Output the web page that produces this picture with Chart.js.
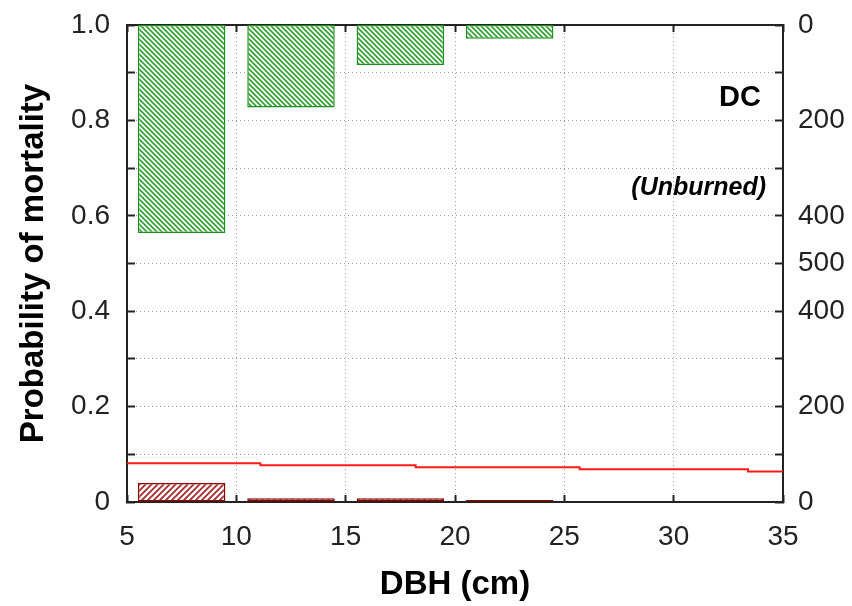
<!DOCTYPE html>
<html lang="en">
<head>
  <meta charset="UTF-8" />
  <title>Probability of mortality by DBH</title>
  <style>
    body { margin: 0; background: #ffffff; }
    #wrap { width: 852px; height: 606px; position: relative; }
  </style>
  <script src="https://cdn.jsdelivr.net/npm/chart.js"></script>
</head>
<body>
  <div id="wrap"><canvas id="chart"></canvas></div>
  <script>
    // DBH classes (cm), bar centres
    const binCenters = [7.5, 12.5, 17.5, 22.5];
    // tree counts per class: survivors hang from the top axis, dead trees stand on the bottom
    const liveCounts = [436, 173, 84, 29];
    const deadCounts = [40, 8, 8, 4];
    // one tree = 1/1000 on the probability axis
    const countsPerUnit = 1000;
    // fitted mortality curve (step line)
    const curveDbh = [5, 11.1, 18.2, 25.7, 33.4, 35];
    const curveProb = [0.081, 0.077, 0.073, 0.0685, 0.064, 0.064];

    const FONT = "'Liberation Sans', Arial, sans-serif";

    function hatch(color, size, width, forward) {
      const c = document.createElement('canvas');
      c.width = size; c.height = size;
      const g = c.getContext('2d');
      g.fillStyle = '#ffffff';
      g.fillRect(0, 0, size, size);
      g.strokeStyle = color;
      g.lineWidth = width;
      g.beginPath();
      if (forward) {
        g.moveTo(-1, size + 1); g.lineTo(size + 1, -1);
        g.moveTo(-2, 2); g.lineTo(2, -2);
        g.moveTo(size - 2, size + 2); g.lineTo(size + 2, size - 2);
      } else {
        g.moveTo(-1, -1); g.lineTo(size + 1, size + 1);
        g.moveTo(size - 2, -2); g.lineTo(size + 2, 2);
        g.moveTo(-2, size - 2); g.lineTo(2, size + 2);
      }
      g.stroke();
      return g.createPattern(c, 'repeat');
    }

    const liveBars = binCenters.map((x, i) => ({ x: x, y: [1 - liveCounts[i] / countsPerUnit, 1] }));
    const deadBars = binCenters.map((x, i) => ({ x: x, y: [0, deadCounts[i] / countsPerUnit] }));
    const curve = curveDbh.map((x, i) => ({ x: x, y: curveProb[i] }));

    const labelsPlugin = {
      id: 'panelLabels',
      afterDraw(chart) {
        const { ctx, chartArea } = chart;
        ctx.save();
        ctx.fillStyle = '#000';
        ctx.textAlign = 'right';
        ctx.textBaseline = 'middle';
        ctx.font = 'bold 29px ' + FONT;
        ctx.fillText('DC', chartArea.right - 22, 98);
        ctx.font = 'italic bold 25px ' + FONT;
        ctx.fillText('(Unburned)', chartArea.right - 17, 188);
        ctx.restore();
      }
    };

    // labels that overflow the plot edges must not push the plot area in
    function noOverflow(scale) {
      scale.paddingTop = 0; scale.paddingBottom = 0;
      scale.paddingLeft = 0; scale.paddingRight = 0;
    }

    const tickFont = { family: FONT, size: 28 };
    const titleFont = { family: FONT, size: 33, weight: 'bold' };
    const dotGrid = { color: '#222', width: 2, dash: [1, 3] };

    new Chart(document.getElementById('chart'), {
      type: 'bar',
      data: {
        datasets: [
          {
            type: 'line',
            data: curve,
            borderColor: '#ff1a1a',
            borderWidth: 2,
            pointRadius: 0,
            stepped: true,
            fill: false,
            order: 0
          },
          {
            data: liveBars,
            stack: 'dbh',
            backgroundColor: hatch('#35a035', 5, 1.7, false),
            borderColor: '#1f8f1f',
            borderWidth: 1.5,
            borderSkipped: false,
            categoryPercentage: 1,
            barPercentage: 0.8,
            order: 1
          },
          {
            data: deadBars,
            stack: 'dbh',
            backgroundColor: hatch('#a82a2a', 6, 1.8, true),
            borderColor: '#8b0000',
            borderWidth: 1.5,
            borderSkipped: false,
            categoryPercentage: 1,
            barPercentage: 0.8,
            order: 1
          }
        ]
      },
      options: {
        responsive: true,
        maintainAspectRatio: false,
        animation: false,
        layout: { padding: 0 },
        plugins: { legend: { display: false }, tooltip: { enabled: false } },
        scales: {
          x: {
            type: 'linear',
            position: 'bottom',
            min: 5, max: 35,
            offset: false,
            grid: { offset: false, color: '#999', tickColor: '#222', tickWidth: 2, tickLength: -7 },
            border: dotGrid,
            ticks: { stepSize: 5, color: '#222', font: tickFont, padding: 25, maxRotation: 0 },
            title: { display: true, text: 'DBH (cm)', color: '#000', font: titleFont, padding: { top: 0, bottom: 1 } },
            afterFit(scale) { noOverflow(scale); scale.height = 104; }
          },
          xTop: {
            type: 'linear',
            position: 'top',
            min: 5, max: 35,
            offset: false,
            grid: { offset: false, drawOnChartArea: false, tickColor: '#222', tickWidth: 2, tickLength: -7 },
            border: { color: '#222', width: 2 },
            ticks: { stepSize: 5, display: false },
            afterFit(scale) { noOverflow(scale); scale.height = 25; }
          },
          y: {
            position: 'left',
            min: 0, max: 1,
            stacked: false,
            grid: { color: '#999', tickColor: '#222', tickWidth: 2, tickLength: -8 },
            border: dotGrid,
            ticks: {
              stepSize: 0.1,
              color: '#222',
              font: tickFont,
              padding: 25,
              callback(v) {
                const k = Math.round(v * 10);
                if (k % 2 !== 0) return '';
                return k === 0 ? '0' : (k / 10).toFixed(1);
              }
            },
            title: { display: true, text: 'Probability of mortality', color: '#000', font: titleFont, padding: { top: 14, bottom: 0 } },
            afterFit(scale) { noOverflow(scale); scale.width = 127; }
          },
          yCount: {
            position: 'right',
            min: 0, max: 1,
            grid: { drawOnChartArea: false, tickColor: '#222', tickWidth: 2, tickLength: -8 },
            border: { color: '#222', width: 2 },
            ticks: {
              stepSize: 0.1,
              color: '#222',
              font: tickFont,
              padding: 23,
              callback(v) {
                const k = Math.round(v * 10);
                if (k % 2 !== 0 && k !== 5) return '';
                const n = k >= 5 ? (10 - k) * countsPerUnit / 10 : k * countsPerUnit / 10;
                return String(n);
              }
            },
            afterFit(scale) { noOverflow(scale); scale.width = 69; }
          }
        }
      },
      plugins: [labelsPlugin]
    });
  </script>
</body>
</html>
